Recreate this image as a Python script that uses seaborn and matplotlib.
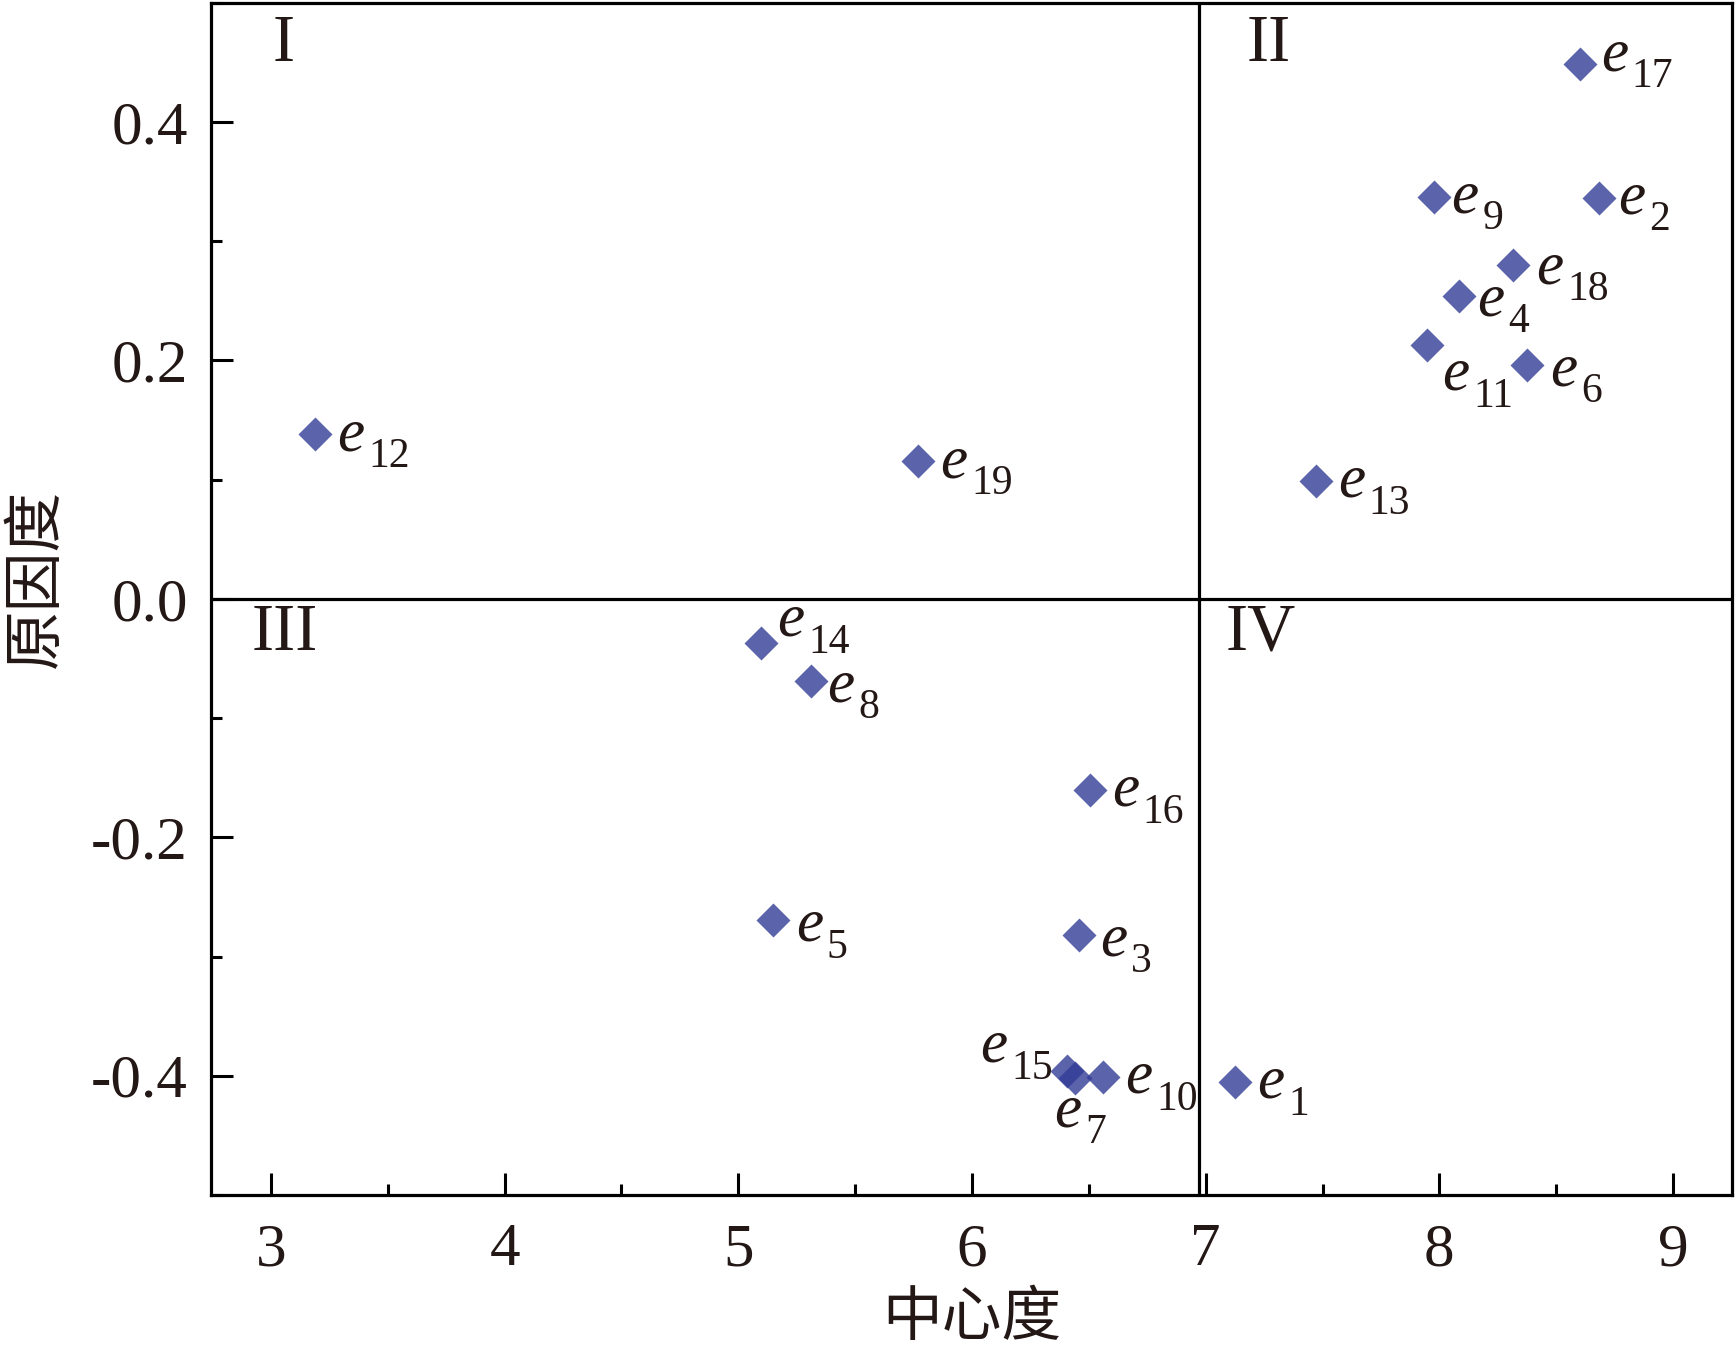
import matplotlib
matplotlib.use("Agg")
import matplotlib.pyplot as plt
import seaborn as sns
import pandas as pd
from matplotlib.ticker import MultipleLocator

# factor names and their scores
factors = [str(i) for i in range(1, 20)]
centrality = [7.125, 8.685, 6.458, 8.085, 5.148, 8.373, 6.440, 5.312, 7.975, 6.561,
              7.947, 3.190, 7.471, 5.095, 6.407, 6.504, 8.600, 8.317, 5.769]
causality = [-0.405, 0.336, -0.282, 0.254, -0.269, 0.196, -0.402, -0.069, 0.337, -0.401,
             0.213, 0.138, 0.099, -0.037, -0.396, -0.160, 0.4485, 0.280, 0.1155]
x_split = 6.972
y_split = 0.0
quadrants = ["I", "II", "III", "IV"]

df = pd.DataFrame({"factor": factors, "centrality": centrality, "causality": causality})

sns.set_style("ticks")
plt.rcParams["font.family"] = ["Liberation Serif", "DejaVu Serif"]

ink = "#231815"
fig, ax = plt.subplots(figsize=(17.35, 13.53), dpi=100)
fig.subplots_adjust(left=0.1218, right=0.998, bottom=0.1168, top=0.998)

sns.scatterplot(data=df, x="centrality", y="causality", marker="D", s=300,
                color="#323c96", alpha=0.8, linewidth=0, ax=ax, zorder=3)

ax.axvline(x_split, color="black", lw=2.3, zorder=2)
ax.axhline(y_split, color="black", lw=2.3, zorder=2)

# offsets of the italic "e" (left edge, baseline) from the marker, in pixels
offsets = {"14": (17, 7), "8": (16, -20), "5": (23, -21), "3": (21, -20),
           "11": (15, -45), "15": (-87, 9), "7": (-21, -48), "6": (24, -20),
           "18": (23, -18), "4": (18, -19), "17": (21, -6), "9": (18, -15),
           "2": (19, -15)}
for name, xv, yv in zip(factors, centrality, causality):
    dx, dy = offsets.get(name, (22, -16))
    ax.annotate("e", (xv, yv), xytext=(dx, dy), textcoords="offset pixels",
                ha="left", va="baseline", fontsize=44, style="italic", color=ink)
    ax.annotate(name, (xv, yv), xytext=(dx + 31, dy - 17), textcoords="offset pixels",
                ha="left", va="baseline", fontsize=30, color=ink)

quad_pos = [(3.055, 0.465), (7.27, 0.465), (3.058, -0.029), (7.236, -0.029)]
for q, (qx, qy) in zip(quadrants, quad_pos):
    ax.text(qx, qy, q, ha="center", va="center", fontsize=48, color=ink)

ax.set_xlim(2.745, 9.25)
ax.set_ylim(-0.5, 0.5)
ax.xaxis.set_minor_locator(MultipleLocator(0.5))
ax.yaxis.set_minor_locator(MultipleLocator(0.1))
ax.set_xticks([3, 4, 5, 6, 7, 8, 9])
ax.set_yticks([-0.4, -0.2, 0.0, 0.2, 0.4])
ax.set_yticklabels(["-0.4", "-0.2", "0.0", "0.2", "0.4"])

ax.tick_params(which="both", direction="in", top=False, right=False, width=2.2,
               colors="black", labelcolor=ink, labelsize=44)
ax.tick_params(which="major", length=16)
ax.tick_params(which="minor", length=8)
ax.tick_params(axis="x", pad=20)
ax.tick_params(axis="y", pad=17)
for sp in ax.spines.values():
    sp.set_linewidth(2.3)
    sp.set_color("black")

cjk = ["Noto Sans CJK SC", "DejaVu Sans"]
ax.set_xlabel("中心度", fontsize=43, family=cjk, color=ink, va="center")
ax.set_ylabel("原因度", fontsize=43, family=cjk, color=ink, va="center")
ax.xaxis.set_label_coords(0.5, -0.104)
ax.yaxis.set_label_coords(-0.115, 0.517)

plt.savefig("out.png", dpi=100)
